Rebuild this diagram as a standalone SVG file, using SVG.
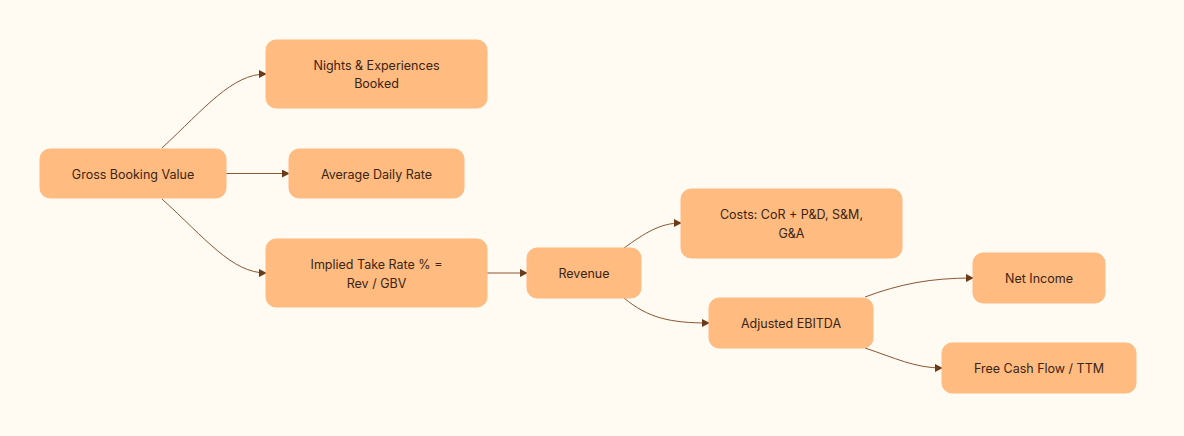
<svg xmlns="http://www.w3.org/2000/svg" width="1184" height="436" viewBox="0 0 1184 436">
<style>
.node rect{fill:#FFBB80;stroke:#FFBB80;stroke-width:1}
.node text{font-family:Inter,"Liberation Sans",sans-serif;font-size:12.5px;fill:#3A2414;text-anchor:middle}
.edge{fill:none;stroke:#8A5634;stroke-width:1}
</style>
<defs>
<marker id="ah" viewBox="0 0 10 10" refX="9" refY="5" markerWidth="8" markerHeight="8" markerUnits="userSpaceOnUse" orient="auto">
<path d="M0,0 L10,5 L0,10 z" fill="#6B3A17"/>
</marker>
</defs>
<rect width="1184" height="436" fill="#FFFAF2"/>
<g id="edges">
<path class="edge" d="M162,148 C205,108 232,74 266,74" marker-end="url(#ah)"/>
<path class="edge" d="M226,173.5 L289,173.5" marker-end="url(#ah)"/>
<path class="edge" d="M162,199 C205,238 232,273 266,273" marker-end="url(#ah)"/>
<path class="edge" d="M487,273 L527,273" marker-end="url(#ah)"/>
<path class="edge" d="M624,248 C645,233 660,223 681,223" marker-end="url(#ah)"/>
<path class="edge" d="M624,298 C648,318 670,323 709,323" marker-end="url(#ah)"/>
<path class="edge" d="M865,297 C900,284 930,278 973,278" marker-end="url(#ah)"/>
<path class="edge" d="M865,348 C895,358 915,368 942,368" marker-end="url(#ah)"/>
</g>
<g id="gbv" class="node"><rect x="40" y="149" width="186" height="49" rx="10"/><text x="133" y="178.5">Gross Booking Value</text></g>
<g id="nights" class="node"><rect x="266" y="40" width="221" height="68" rx="10"/><text x="376.5" y="70">Nights &amp; Experiences</text><text x="376.5" y="88">Booked</text></g>
<g id="adr" class="node"><rect x="289" y="149" width="175" height="49" rx="10"/><text x="376.5" y="178.5">Average Daily Rate</text></g>
<g id="take" class="node"><rect x="266" y="239" width="221" height="68" rx="10"/><text x="376.5" y="269">Implied Take Rate % =</text><text x="376.5" y="288">Rev / GBV</text></g>
<g id="revenue" class="node"><rect x="527" y="248" width="114" height="50" rx="10"/><text x="584" y="278">Revenue</text></g>
<g id="costs" class="node"><rect x="681" y="189" width="221" height="69" rx="10"/><text x="791.5" y="219">Costs: CoR + P&amp;D, S&amp;M,</text><text x="791.5" y="238">G&amp;A</text></g>
<g id="ebitda" class="node"><rect x="709" y="298" width="164" height="50" rx="10"/><text x="791" y="328">Adjusted EBITDA</text></g>
<g id="netincome" class="node"><rect x="973" y="253" width="132" height="50" rx="10"/><text x="1039" y="283">Net Income</text></g>
<g id="fcf" class="node"><rect x="942" y="343" width="194" height="50" rx="10"/><text x="1039" y="373">Free Cash Flow / TTM</text></g>
</svg>
